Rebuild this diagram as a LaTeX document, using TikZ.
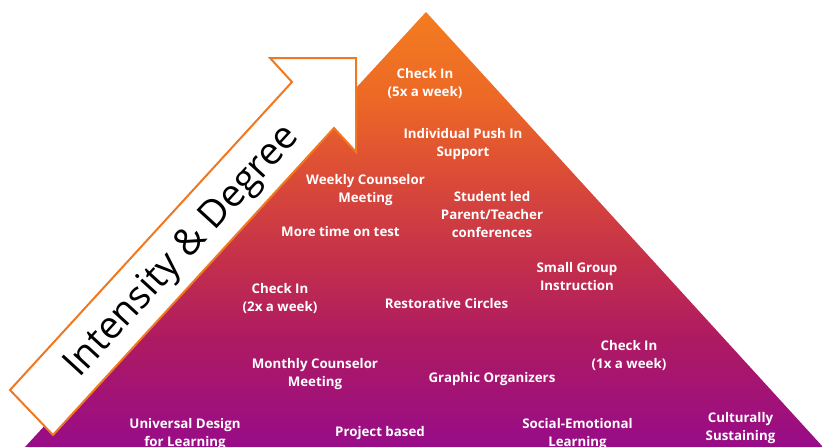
\documentclass[tikz,border=0pt]{standalone}
\usepackage{fontspec}
\setmainfont{Open Sans}
\usetikzlibrary{shadings}

\definecolor{pyrA}{HTML}{F47C20}
\definecolor{pyrB}{HTML}{EC6826}
\definecolor{pyrC}{HTML}{DA4A38}
\definecolor{pyrD}{HTML}{C4304A}
\definecolor{pyrE}{HTML}{AE1A62}
\definecolor{pyrF}{HTML}{980C88}
\definecolor{arrowedge}{HTML}{F07820}

% vertical blend of the pyramid, purple at the base to orange at the apex
\pgfdeclareverticalshading{pyramidfill}{100bp}{%
  color(0bp)=(pyrF); color(25bp)=(pyrF); color(37.3bp)=(pyrE);
  color(46.5bp)=(pyrD); color(55.7bp)=(pyrC); color(64.9bp)=(pyrB);
  color(75bp)=(pyrA); color(100bp)=(pyrA)}

\tikzset{
  tier/.style={text=white, font=\fontsize{13.3}{18}\selectfont\bfseries,
    align=center, inner sep=0pt},
  arrowshape/.style={draw=arrowedge, fill=white, line width=2pt, line join=miter},
  arrowtext/.style={font=\fontsize{38}{40}\selectfont, text=black, rotate=47.5,
    inner sep=0pt}
}

\begin{document}
\begin{tikzpicture}[x=1pt, y=-1pt]
\useasboundingbox (0,0) rectangle (822,447);
\clip (0,0) rectangle (822,447);

% pyramid
\shade[shading=pyramidfill] (426,12) -- (823,447) -- (25,447) -- cycle;

% tier labels
\node[tier] (ci5) at (425,83.5) {Check In\\(5x a week)};
\node[tier] (push) at (463,144) {Individual Push In\\Support};
\node[tier] (weekly) at (365.5,190) {Weekly Counselor\\Meeting};
\node[tier] (student) at (492,214.5) {Student led\\Parent/Teacher\\conferences};
\node[tier] (moretime) at (340.5,232) {More time on test};
\node[tier] (small) at (577,276.5) {Small Group\\Instruction};
\node[tier] (ci2) at (280,298) {Check In\\(2x a week)};
\node[tier] (restore) at (446.5,304) {Restorative Circles};
\node[tier] (ci1) at (629,355) {Check In\\(1x a week)};
\node[tier] (monthly) at (315,374) {Monthly Counselor\\Meeting};
\node[tier] (graphic) at (492,379) {Graphic Organizers};
\node[tier] (udl) at (185,434) {Universal Design\\for Learning};
\node[tier] (project) at (380,433) {Project based};
\node[tier] (sel) at (577.5,434) {Social-Emotional\\Learning};
\node[tier] (culture) at (740.5,428) {Culturally\\Sustaining};

% diagonal arrow with its caption
\draw[arrowshape] (10,390) -- (292,82) -- (270,58) -- (356,58) -- (356,152)
  -- (334,128) -- (53,435) -- cycle;
\node[arrowtext] (intensity) at (183,252) {Intensity \& Degree};
\end{tikzpicture}
\end{document}
